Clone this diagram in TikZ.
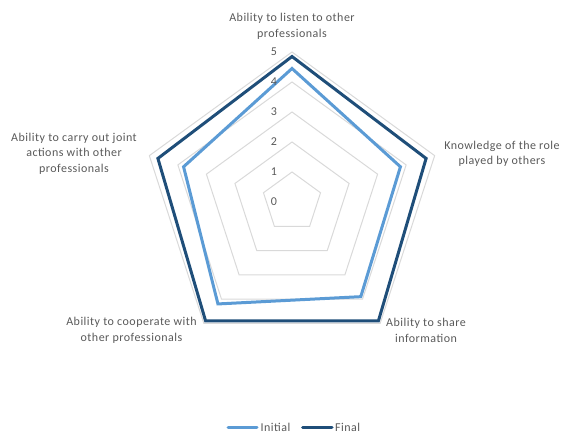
\documentclass[tikz,border=0pt]{standalone}
\usepackage{fontspec}
\setmainfont{Carlito}[LetterSpace=4]
\definecolor{initc}{HTML}{5B9BD5}
\definecolor{finalc}{HTML}{1F4E79}
\definecolor{gridc}{HTML}{D9D9D9}
\definecolor{txtc}{HTML}{595959}
\begin{document}
\begin{tikzpicture}[x=1pt,y=1pt,
  lbl/.style={text=txtc, font=\fontsize{12}{15.5}\selectfont, align=center, inner sep=0pt},
  gridline/.style={draw=gridc, line width=1},
  series/.style={line width=3, line join=miter},
  legline/.style={line width=3, line cap=round}]
\useasboundingbox (0,0) rectangle (564,-434);
\begin{scope}[shift={(292,-202)}]
  \foreach \k in {1,...,5}
    \draw[gridline] (90:\k*30) -- (18:\k*30) -- (-54:\k*30) -- (-126:\k*30) -- (162:\k*30) -- cycle;
  \draw[series, initc] (90:4.45*30) -- (18:3.8*30) -- (-54:3.9*30) -- (-126:4.2*30) -- (162:3.8*30) -- cycle;
  \draw[series, finalc] (90:4.85*30) -- (18:4.7*30) -- (-54:4.9*30) -- (-126:4.9*30) -- (162:4.7*30) -- cycle;
\end{scope}
\foreach \k in {0,...,5}
  \node[lbl] (n\k) at (274,-202+\k*30) {\k};
\node[lbl] (ltop) at (292,-26.5) {Ability to listen to other\\professionals};
\node[lbl] (lright) at (502,-154) {Knowledge of the role\\played by others};
\node[lbl] (lleft) at (74,-153.5) {Ability to carry out joint\\actions with other\\professionals};
\node[lbl] (lbl2) at (131.5,-330.5) {Ability to cooperate with\\other professionals};
\node[lbl] (lbr) at (426,-330.3) {Ability to share\\information};
\coordinate (i1) at (228,-427.5);
\coordinate (i2) at (257,-427.5);
\coordinate (f1) at (302.5,-427.5);
\coordinate (f2) at (332,-427.5);
\draw[legline, initc] (i1) -- (i2);
\draw[legline, finalc] (f1) -- (f2);
\node[lbl, anchor=west] (tinit) at (260.5,-427.3) {Initial};
\node[lbl, anchor=west] (tfinal) at (335,-427.3) {Final};
\end{tikzpicture}
\end{document}
